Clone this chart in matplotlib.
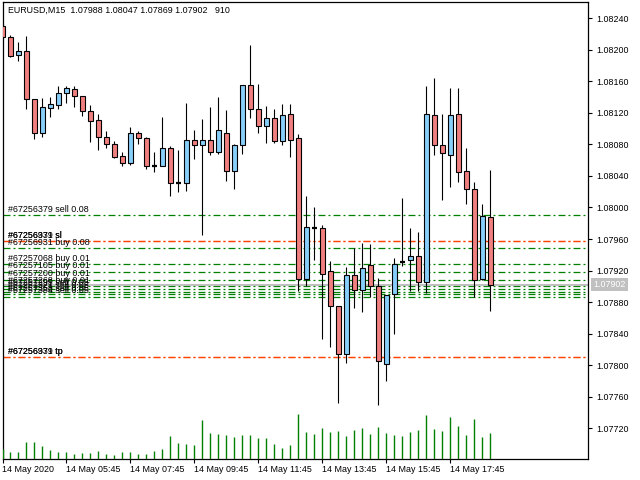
import matplotlib
matplotlib.use("Agg")
import matplotlib.pyplot as plt
from matplotlib.patches import Rectangle

plt.rcParams["font.family"] = ["Liberation Sans", "DejaVu Sans"]
plt.rcParams["lines.scale_dashes"] = False

symbol = "EURUSD,M15"

# EURUSD M15 bars, 14 May 2020 03:45 .. 19:00
opens = [1.08230, 1.08216, 1.08193, 1.08198, 1.08138, 1.08094, 1.08126, 1.08130, 1.08145, 1.08150,
         1.08142, 1.08122, 1.08111, 1.08090, 1.08080, 1.08065, 1.08056, 1.08095, 1.08088, 1.08053,
         1.08053, 1.08075, 1.08031, 1.08031, 1.08086, 1.08079, 1.08086, 1.08071, 1.08094, 1.08046,
         1.08079, 1.08156, 1.08125, 1.08103, 1.08113, 1.08084, 1.08118, 1.08088, 1.07909, 1.07974,
         1.07974, 1.07919, 1.07875, 1.07814, 1.07914, 1.07895, 1.07927, 1.07900, 1.07802, 1.07890,
         1.07931, 1.07933, 1.07938, 1.07905, 1.08117, 1.08079, 1.08066, 1.08118, 1.08046, 1.08023,
         1.07909, 1.07988]
highs = [1.08233, 1.08219, 1.08210, 1.08218, 1.08138, 1.08139, 1.08140, 1.08154, 1.08154, 1.08154,
         1.08142, 1.08130, 1.08118, 1.08097, 1.08084, 1.08070, 1.08102, 1.08097, 1.08090, 1.08070,
         1.08115, 1.08078, 1.08073, 1.08132, 1.08098, 1.08112, 1.08127, 1.08140, 1.08124, 1.08080,
         1.08156, 1.08206, 1.08157, 1.08129, 1.08125, 1.08131, 1.08131, 1.08093, 1.08015, 1.08001,
         1.07978, 1.07932, 1.07875, 1.07924, 1.07948, 1.07955, 1.07954, 1.07911, 1.07889, 1.07936,
         1.08012, 1.07974, 1.07969, 1.08154, 1.08164, 1.08118, 1.08152, 1.08151, 1.08076, 1.08032,
         1.08004, 1.08047]
lows = [1.08215, 1.08191, 1.08186, 1.08125, 1.08087, 1.08089, 1.08115, 1.08125, 1.08132, 1.08128,
        1.08116, 1.08083, 1.08073, 1.08076, 1.08063, 1.08052, 1.08054, 1.08081, 1.08049, 1.08045,
        1.08052, 1.08015, 1.08020, 1.08021, 1.08062, 1.07965, 1.08066, 1.08068, 1.08034, 1.08024,
        1.08068, 1.08114, 1.08094, 1.08082, 1.08082, 1.08079, 1.08064, 1.07894, 1.07900, 1.07933,
        1.07833, 1.07823, 1.07752, 1.07803, 1.07873, 1.07867, 1.07887, 1.07750, 1.07780, 1.07840,
        1.07926, 1.07894, 1.07894, 1.07891, 1.08066, 1.08010, 1.08026, 1.08032, 1.08004, 1.07886,
        1.07908, 1.07869]
closes = [1.08216, 1.08192, 1.08198, 1.08138, 1.08094, 1.08127, 1.08131, 1.08145, 1.08151, 1.08142,
          1.08122, 1.08110, 1.08090, 1.08080, 1.08064, 1.08056, 1.08095, 1.08088, 1.08052, 1.08053,
          1.08076, 1.08031, 1.08031, 1.08086, 1.08079, 1.08086, 1.08071, 1.08098, 1.08046, 1.08079,
          1.08156, 1.08125, 1.08103, 1.08113, 1.08084, 1.08117, 1.08086, 1.07909, 1.07975, 1.07974,
          1.07916, 1.07875, 1.07814, 1.07914, 1.07895, 1.07923, 1.07900, 1.07805, 1.07889, 1.07928,
          1.07931, 1.07939, 1.07905, 1.08118, 1.08079, 1.08069, 1.08117, 1.08045, 1.08023, 1.07908,
          1.07989, 1.07902]
volumes = [350, 245, 245, 595, 595, 455, 315, 245, 245, 175,
           210, 210, 280, 175, 140, 245, 245, 175, 175, 280,
           350, 805, 560, 525, 490, 1365, 910, 875, 840, 770,
           840, 840, 735, 735, 525, 385, 490, 1575, 945, 875,
           1085, 945, 980, 805, 1015, 1085, 875, 1120, 910, 840,
           805, 945, 1015, 1540, 1050, 980, 1470, 1155, 840, 1400,
           770, 910]

time_label_bars = [0, 8, 16, 24, 32, 40, 48, 56]
time_labels = ["14 May 2020", "14 May 05:45", "14 May 07:45", "14 May 09:45",
               "14 May 11:45", "14 May 13:45", "14 May 15:45", "14 May 17:45"]
price_ticks = [1.07720, 1.07760, 1.07800, 1.07840, 1.07880, 1.07920, 1.07960,
               1.08000, 1.08040, 1.08080, 1.08120, 1.08160, 1.08200, 1.08240]

# open orders drawn as horizontal lines
order_labels = ["#67256379 sell 0.08", "#67256931 buy 0.08", "#67257068 buy 0.01",
                "#67257105 buy 0.01", "#67257200 buy 0.01", "#67257268 buy 0.01",
                "#67257295 sell 0.05", "#67257321 sell 0.05", "#67257358 sell 0.05",
                "#67257384 sell 0.05"]
order_prices = [1.07990, 1.07948, 1.07928, 1.07918, 1.07908, 1.07900,
                1.07897, 1.07893, 1.07890, 1.07887]
stop_labels = ["#67256379 sl", "#67256931 sl", "#67256379 tp", "#67256931 tp"]
stop_prices = [1.07957, 1.07957, 1.07810, 1.07810]
bid = 1.07902

bull_color = "#87CEFA"
bear_color = "#F08080"
order_color = "#008000"
stop_color = "#FF4500"
dashdot = (0, (5, 2.2, 1.4, 2.2))

fig = plt.figure(figsize=(6.4, 4.8), dpi=100)
ax = fig.add_axes([2.5 / 640, 21 / 480, 585 / 640, 456.7 / 480])
ax.set_xlim(0.04, 73.16)
ax.set_ylim(1.076809, 1.082603)

for p in order_prices:
    ax.axhline(p, color=order_color, lw=0.9, linestyle=dashdot, zorder=1)
for p in stop_prices:
    ax.axhline(p, color=stop_color, lw=0.9, linestyle=dashdot, zorder=1)
ax.axhline(bid, color="#C0C0C0", lw=1.5, zorder=1)

tr = ax.get_yaxis_transform()
for lbl, p in zip(order_labels + stop_labels, order_prices + stop_prices):
    ax.annotate(lbl, (0, p), xycoords=tr, xytext=(4, 1.2), textcoords="offset points",
                ha="left", va="bottom", fontsize=6.4, color="black", zorder=4)

for i, (o, h, l, c) in enumerate(zip(opens, highs, lows, closes)):
    ax.vlines(i, l, h, color="black", lw=0.8, zorder=2)
    if c == o:
        ax.hlines(o, i - 0.3, i + 0.3, color="black", lw=1.6, zorder=3)
        continue
    color = bull_color if c > o else bear_color
    ax.add_patch(Rectangle((i - 0.28, min(o, c)), 0.56, abs(c - o), facecolor=color,
                           edgecolor="black", lw=0.8, zorder=3))

ax.set_yticks(price_ticks)
ax.set_yticklabels([f"{t:.5f}" for t in price_ticks])
ax.yaxis.tick_right()
ax.tick_params(axis="y", direction="out", length=3, width=0.8, pad=3.5, labelsize=6.4)
ax.set_xticks(time_label_bars)
ax.set_xticklabels(time_labels)
for t in ax.get_xticklabels():
    t.set_horizontalalignment("left")
ax.tick_params(axis="x", direction="out", length=3, width=0.8, pad=1.5, labelsize=6.4)
for s in ax.spines.values():
    s.set_linewidth(0.9)

# current bid tag on the price scale
ax.annotate(f"{bid:.5f}", (1.0, bid), xycoords=tr, xytext=(4, 0), textcoords="offset points",
            ha="left", va="center", fontsize=6.4, color="white", annotation_clip=False,
            bbox=dict(boxstyle="square,pad=0.25", fc="#C0C0C0", ec="none"))

header = (f"{symbol}  {opens[-1]:.5f} {highs[-1]:.5f} {lows[-1]:.5f} "
          f"{closes[-1]:.5f}   {volumes[-1]}")
ax.text(5 / 585, 0.983, header, transform=ax.transAxes, ha="left", va="center", fontsize=6.4)

ax_vol = fig.add_axes(ax.get_position(), sharex=ax)
ax_vol.set_axis_off()
ax_vol.set_ylim(0, 16000)
ax_vol.vlines(range(len(volumes)), 0, volumes, color=order_color, lw=1.0)

fig.savefig("out.png", dpi=100, facecolor="white")
